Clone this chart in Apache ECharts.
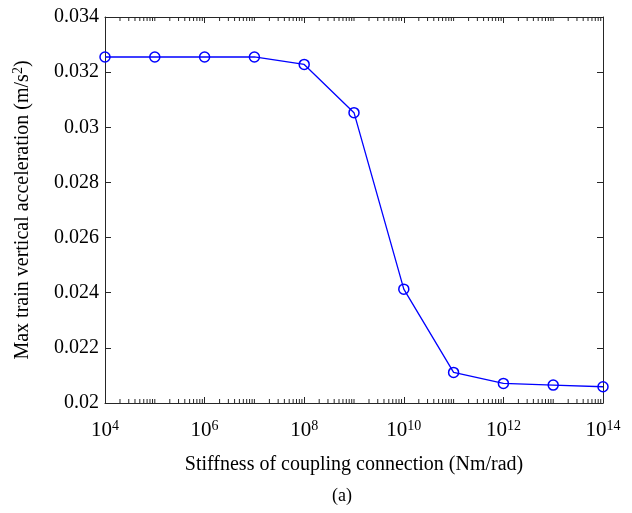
<!DOCTYPE html>
<html><head><meta charset="utf-8">
<script src="https://cdn.jsdelivr.net/npm/echarts@6/dist/echarts.min.js"></script>
<style>html,body{margin:0;padding:0;background:#fff}#c{width:632px;height:513px}</style>
</head><body><div id="c"></div>
<script>
// Data
const stiffness = [1e4, 1e5, 1e6, 1e7, 1e8, 1e9, 1e10, 1e11, 1e12, 1e13, 1e14];
const maxAccel = [0.03255, 0.03255, 0.03255, 0.03255, 0.03228, 0.03053, 0.02413, 0.02111, 0.02071, 0.02065, 0.02059];
const xTickExponents = [4, 6, 8, 10, 12, 14];
const yTickValues = [0.02, 0.022, 0.024, 0.026, 0.028, 0.03, 0.032, 0.034];

const FONT = 'Liberation Serif';
const AX = '#262626';
const xMin = 4, xMax = 14, yMin = 0.02, yMax = 0.034;

// log-decade minor tick positions (axis decoration)
const minorTicks = [];
for (let n = xMin; n < xMax; n++) {
  if ((n - xMin) % 2 === 1) minorTicks.push([n]);
  for (let k = 2; k <= 9; k++) minorTicks.push([n + Math.log10(k)]);
}

const chart = echarts.init(document.getElementById('c'), null, {renderer: 'canvas'});
const supRich = {
  b: {fontFamily: FONT, fontSize: 21, color: '#000', verticalAlign: 'bottom', lineHeight: 22},
  s: {fontFamily: FONT, fontSize: 14, color: '#000', verticalAlign: 'top', padding: [0, 0, 10, 0], lineHeight: 22}
};
chart.setOption({
  animation: false,
  backgroundColor: '#fff',
  grid: {left: 105, right: 29, top: 17, bottom: 110, containLabel: false},
  title: {text: '(a)', left: 327, top: 482, textStyle: {fontFamily: FONT, fontSize: 18, fontWeight: 'normal', color: '#000'}},
  xAxis: [{
    type: 'value', min: xMin, max: xMax, interval: 2,
    name: 'Stiffness of coupling connection (Nm/rad)', nameLocation: 'middle', nameGap: 52,
    nameTextStyle: {fontFamily: FONT, fontSize: 20, color: '#000'},
    axisLine: {show: true, lineStyle: {color: AX, width: 1}},
    axisTick: {show: true, inside: true, length: 6, lineStyle: {color: AX}},
    splitLine: {show: false},
    axisLabel: {
      margin: 16, color: '#000',
      formatter: v => xTickExponents.includes(Math.round(v)) ? '{b|10}{s|' + Math.round(v) + '}' : '',
      rich: supRich
    }
  }, {
    type: 'value', min: xMin, max: xMax, interval: 2, position: 'top',
    axisLine: {show: true, lineStyle: {color: AX, width: 1}},
    axisTick: {show: true, inside: true, length: 6, lineStyle: {color: AX}},
    axisLabel: {show: false}, splitLine: {show: false}
  }],
  yAxis: [{
    type: 'value', min: yMin, max: yMax, interval: 0.002,
    name: '{t|Max train vertical acceleration (m/s}{s|2}{t|)}', nameLocation: 'middle', nameGap: 72, nameRotate: 90,
    nameTextStyle: {rich: {
      t: {fontFamily: FONT, fontSize: 20, color: '#000', verticalAlign: 'bottom', lineHeight: 22},
      s: {fontFamily: FONT, fontSize: 14, color: '#000', verticalAlign: 'top', padding: [0, 0, 8, 0], lineHeight: 22}
    }},
    axisLine: {show: true, lineStyle: {color: AX, width: 1}},
    axisTick: {show: true, inside: true, length: 6, lineStyle: {color: AX}},
    splitLine: {show: false},
    axisLabel: {fontFamily: FONT, fontSize: 20, color: '#000', margin: 6,
      formatter: v => { const f = yTickValues.find(t => Math.abs(t - v) < 1e-9); return f === undefined ? '' : String(+f.toFixed(3)); }}
  }, {
    type: 'value', min: yMin, max: yMax, interval: 0.002, position: 'right',
    axisLine: {show: true, lineStyle: {color: AX, width: 1}},
    axisTick: {show: true, inside: true, length: 6, lineStyle: {color: AX}},
    axisLabel: {show: false}, splitLine: {show: false}
  }],
  series: [{
    type: 'custom', xAxisIndex: 0, yAxisIndex: 0, silent: true, z: 1,
    data: minorTicks,
    renderItem: (params, api) => {
      const x = api.value(0);
      const b = api.coord([x, yMin]);
      const t = api.coord([x, yMax]);
      return {type: 'group', children: [
        {type: 'line', shape: {x1: b[0], y1: b[1], x2: b[0], y2: b[1] - 4}, style: {stroke: AX, lineWidth: 1}},
        {type: 'line', shape: {x1: t[0], y1: t[1], x2: t[0], y2: t[1] + 4}, style: {stroke: AX, lineWidth: 1}}
      ]};
    }
  }, {
    type: 'line', xAxisIndex: 0, yAxisIndex: 0, z: 5,
    data: stiffness.map((s, i) => [Math.log10(s), maxAccel[i]]),
    symbol: 'circle', symbolSize: 10, showAllSymbol: true,
    lineStyle: {color: '#0000ff', width: 1.3},
    itemStyle: {color: 'rgba(0,0,0,0)', borderColor: '#0000ff', borderWidth: 1.5},
    clip: false
  }]
});
</script></body></html>
